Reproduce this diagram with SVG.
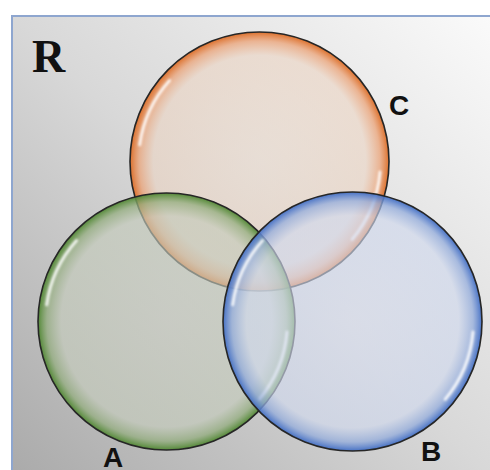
<svg xmlns="http://www.w3.org/2000/svg" width="490" height="470" viewBox="0 0 490 470">
  <defs>
    <linearGradient id="bg" x1="1" y1="0" x2="0" y2="1">
      <stop offset="0" stop-color="#fbfbfb"/>
      <stop offset="0.5" stop-color="#d8d8d8"/>
      <stop offset="1" stop-color="#a9a9a9"/>
    </linearGradient>
    <radialGradient id="gC">
      <stop offset="0" stop-color="#eedccd" stop-opacity="0.55"/>
      <stop offset="0.82" stop-color="#ecd4c2" stop-opacity="0.6"/>
      <stop offset="0.93" stop-color="#eba276" stop-opacity="0.75"/>
      <stop offset="1" stop-color="#dc6a22" stop-opacity="0.95"/>
    </radialGradient>
    <radialGradient id="gA">
      <stop offset="0" stop-color="#c8ccc0" stop-opacity="0.6"/>
      <stop offset="0.82" stop-color="#c4cbbb" stop-opacity="0.65"/>
      <stop offset="0.93" stop-color="#93ad7e" stop-opacity="0.75"/>
      <stop offset="1" stop-color="#4e8630" stop-opacity="0.95"/>
    </radialGradient>
    <radialGradient id="gB">
      <stop offset="0" stop-color="#d8def0" stop-opacity="0.6"/>
      <stop offset="0.82" stop-color="#d0d9ee" stop-opacity="0.65"/>
      <stop offset="0.93" stop-color="#93acdc" stop-opacity="0.75"/>
      <stop offset="1" stop-color="#3f6cc4" stop-opacity="0.95"/>
    </radialGradient>
    <filter id="soft" x="-20%" y="-20%" width="140%" height="140%">
      <feGaussianBlur stdDeviation="1.3"/>
    </filter>
    <g id="hl">
      <path d="M -119.8 -16.8 A 121 121 0 0 1 -89.9 -81" />
      <path d="M 120.5 10.5 A 121 121 0 0 1 92.7 77.8" />
    </g>
  </defs>
  <style>
    .ring { stroke: #262626; stroke-width: 1.6; }
    .gloss { fill: none; stroke: #ffffff; stroke-width: 3; stroke-linecap: round; stroke-opacity: 0.85; filter: url(#soft); }
    .lbl { font-family: "Liberation Sans", Arial, sans-serif; font-weight: bold; font-size: 28px; fill: #111; }
    .rlbl { font-family: "Liberation Serif", "Times New Roman", serif; font-weight: bold; font-size: 46px; fill: #111; }
  </style>
  <rect x="12" y="16" width="490" height="470" fill="url(#bg)" stroke="#8ea6cf" stroke-width="2"/>
  <text class="rlbl" x="32" y="72">R</text>
  <g id="connectors"/>
  <g id="nodeC">
    <circle class="ring" cx="259.5" cy="161.5" r="129.5" fill="url(#gC)"/>
    <use href="#hl" class="gloss" transform="translate(259.5 161.5)"/>
    <text class="lbl" x="389" y="115">C</text>
  </g>
  <g id="nodeA">
    <circle class="ring" cx="166.5" cy="321.5" r="128.5" fill="url(#gA)"/>
    <use href="#hl" class="gloss" transform="translate(166.5 321.5)"/>
    <text class="lbl" x="103" y="467">A</text>
  </g>
  <g id="nodeB">
    <circle class="ring" cx="352.5" cy="321.5" r="129.5" fill="url(#gB)"/>
    <use href="#hl" class="gloss" transform="translate(352.5 321.5)"/>
    <text class="lbl" x="421" y="461">B</text>
  </g>
</svg>
